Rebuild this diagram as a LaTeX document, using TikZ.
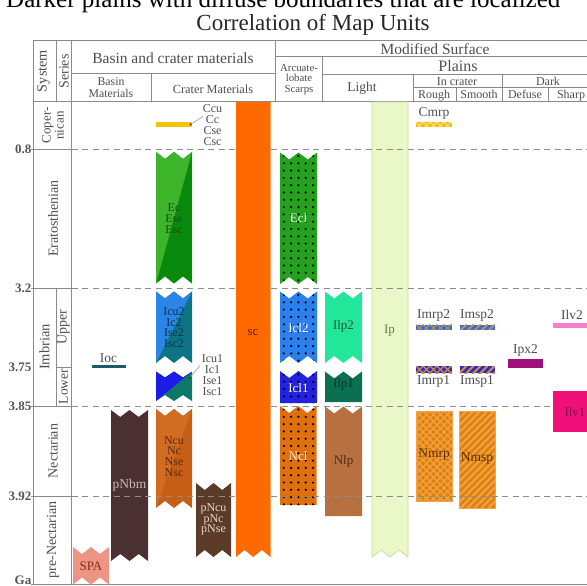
\documentclass[tikz,border=0pt]{standalone}
\usepackage{fontspec}
\setmainfont{Liberation Serif}
\definecolor{axisgray}{HTML}{8A8A8A}
\definecolor{dashgray}{HTML}{8C8C8C}
\definecolor{txtgray}{HTML}{4E4E4E}
\definecolor{numgray}{HTML}{555555}
\definecolor{leadgray}{HTML}{9A9A9A}
\definecolor{ccyel}{HTML}{F5C400}
\definecolor{ecA}{HTML}{3DB52B}
\definecolor{ecB}{HTML}{0A8A0C}
\definecolor{ectxt}{HTML}{1E4A1E}
\definecolor{icuA}{HTML}{2A86E6}
\definecolor{icuB}{HTML}{0B7585}
\definecolor{icuTxt}{HTML}{0E2E4E}
\definecolor{icA}{HTML}{1C1CE6}
\definecolor{icB}{HTML}{0B7868}
\definecolor{ncA}{HTML}{D26C22}
\definecolor{ncB}{HTML}{C65E16}
\definecolor{ncTxt}{HTML}{5A2A08}
\definecolor{pncu}{HTML}{5C3B29}
\definecolor{pncuTxt}{HTML}{E8D8C8}
\definecolor{scOr}{HTML}{FF6A00}
\definecolor{scTxt}{HTML}{5A1E00}
\definecolor{iocC}{HTML}{1B5A6A}
\definecolor{pnbm}{HTML}{4A3030}
\definecolor{pnbmTxt}{HTML}{C8B8B8}
\definecolor{spaC}{HTML}{EC9585}
\definecolor{spaTxt}{HTML}{8A2A1A}
\definecolor{eclC}{HTML}{24A21E}
\definecolor{icl2C}{HTML}{2A80EE}
\definecolor{icl1C}{HTML}{2222E0}
\definecolor{nclC}{HTML}{E0700E}
\definecolor{ilp2C}{HTML}{22E69A}
\definecolor{ilp2Txt}{HTML}{1A5A3A}
\definecolor{ilp1C}{HTML}{0A7050}
\definecolor{ilp1Txt}{HTML}{06382A}
\definecolor{nlpC}{HTML}{B87040}
\definecolor{nlpTxt}{HTML}{4A2A14}
\definecolor{ipC}{HTML}{EAF8C8}
\definecolor{ipEdge}{HTML}{C8DEA0}
\definecolor{ipTxt}{HTML}{6A7A4A}
\definecolor{mrpY}{HTML}{F5C000}
\definecolor{mrpYL}{HTML}{FBE7A0}
\definecolor{blueA}{HTML}{3070E2}
\definecolor{blueB}{HTML}{2A2AD2}
\definecolor{orL}{HTML}{D89030}
\definecolor{nmC}{HTML}{E0800E}
\definecolor{nmL}{HTML}{F2A444}
\definecolor{nmTxt}{HTML}{5A3000}
\definecolor{ipxC}{HTML}{A0107A}
\definecolor{ilv2C}{HTML}{F080C8}
\definecolor{ilv1C}{HTML}{F0107A}
\definecolor{ilvTxt}{HTML}{8A0A4A}
\newcommand{\ribshape}[6]{(#1,#3) -- ({#1+(#2-#1)/4},{#3+#5}) -- ({(#1+#2)/2},#3) -- ({#1+3*(#2-#1)/4},{#3+#5}) -- (#2,#3) -- (#2,#4) -- ({#1+3*(#2-#1)/4},{#4-#6}) -- ({(#1+#2)/2},#4) -- ({#1+(#2-#1)/4},{#4-#6}) -- (#1,#4) -- cycle}
\newcommand{\monorib}[7]{\fill[#7] \ribshape{#1}{#2}{#3}{#4}{#5}{#6};}
\newcommand{\tworib}[8]{\fill[#8] \ribshape{#1}{#2}{#3}{#4}{#5}{#6};
  \begin{scope}\clip \ribshape{#1}{#2}{#3}{#4}{#5}{#6};
  \fill[#7] (#1,#3) -- (#2,#3) -- (#1,#4) -- cycle;\end{scope}}
\newcommand{\dotrib}[7]{\fill[#7] \ribshape{#1}{#2}{#3}{#4}{#5}{#6};
  \begin{scope}\clip \ribshape{#1}{#2}{#3}{#4}{#5}{#6};
  \foreach \xx in {0,...,4} {\foreach \yy in {0,...,19} {\fill[black] ({#1+3.8+\xx*7.3},{#3+3.5+\yy*7.3}) circle (1.25);}}
  \end{scope}}
\newcommand{\xhatch}[7]{\fill[#5] (#1,#2) rectangle (#3,#4);
  \begin{scope}\clip (#1,#2) rectangle (#3,#4);
  \foreach \k in {-15,...,20} {\draw[#6, line width=#7] ({#1+\k*7},#2) -- ++(100,100);
    \draw[#6, line width=#7] ({#1+\k*7},#2) -- ++(-100,100);}
  \end{scope}}
\newcommand{\stripes}[7]{\fill[#5] (#1,#2) rectangle (#3,#4);
  \begin{scope}\clip (#1,#2) rectangle (#3,#4);
  \foreach \k in {0,...,20} {\draw[#6, line width=#7] ({#1+\k*7},#2) -- ++(-100,100);}
  \end{scope}}
\begin{document}
\begin{tikzpicture}[x=1pt,y=-1pt,
  grid/.style={draw=axisgray, line width=1pt},
  dash line/.style={draw=dashgray, line width=0.9pt, dash pattern=on 6pt off 4.5pt},
  hdr/.style={text=txtgray, font=\fontsize{15.5}{16}\selectfont, inner sep=0pt},
  sub/.style={text=txtgray, font=\fontsize{12.3}{10.5}\selectfont, inner sep=0pt, align=center},
  per/.style={text=txtgray, font=\fontsize{14}{13}\selectfont, inner sep=0pt, rotate=90, align=center},
  num/.style={text=numgray, font=\bfseries\fontsize{13}{13}\selectfont, inner sep=0pt, anchor=east},
  ulab/.style={text=txtgray, font=\fontsize{13.5}{11}\selectfont, inner sep=0pt, align=center},
  slab/.style={text=txtgray, font=\fontsize{12}{11}\selectfont, inner sep=0pt, align=center},
  inl/.style={font=\fontsize{12}{10.8}\selectfont, inner sep=0pt, align=center},
  leader/.style={draw=leadgray, line width=0.6pt}]
\useasboundingbox (0,0) rectangle (587,586);
\clip (0,0) rectangle (587,586);
% top text (cropped in the reference) and title
\node[anchor=base west, inner sep=0pt, font=\fontsize{25}{25}\selectfont] (cut) at (6,7.5) {Darker plains with diffuse boundaries that are localized};
\node[anchor=base, inner sep=0pt, font=\fontsize{23}{23}\selectfont, text=black!85] (title) at (313,31) {Correlation of Map Units};
% header frame
\draw[grid] (33,41) -- (600,41);
\draw[grid] (33,101.5) -- (600,101.5);
\draw[grid] (33,41) -- (33,584);
\draw[grid] (71,41) -- (71,584);
\draw[grid] (56,41) -- (56,101.5);
\draw[grid] (71,74) -- (275.5,74);
\draw[grid] (151,74) -- (151,101.5);
\draw[grid] (275.5,41) -- (275.5,101.5);
\draw[grid] (275.5,57) -- (600,57);
\draw[grid] (322,57) -- (322,101.5);
\draw[grid] (322,75) -- (600,75);
\draw[grid] (413,75) -- (413,101.5);
\draw[grid] (502,75) -- (502,101.5);
\draw[grid] (413,88) -- (600,88);
\draw[grid] (456,88) -- (456,101.5);
\draw[grid] (548,88) -- (548,101.5);
% time scale
\draw[grid] (31,149) -- (71,149);
\draw[grid] (31,288) -- (71,288);
\draw[grid] (56,367) -- (71,367);
\draw[grid] (31,406) -- (71,406);
\draw[grid] (31,496) -- (71,496);
\draw[grid] (56,288) -- (56,406);
\draw[grid] (31,584) -- (600,584);
\node[num] (n1) at (31.5,149.5) {0.8};
\node[num] (n2) at (31.5,288.5) {3.2};
\node[num] (n3) at (31.5,367.5) {3.75};
\node[num] (n4) at (31.5,406.5) {3.85};
\node[num] (n5) at (31.5,496.5) {3.92};
\node[num] (n6) at (31.5,580) {Ga};
% header texts
\node[per, font=\fontsize{14.3}{13}\selectfont] (hsys) at (43.5,71) {System};
\node[per, font=\fontsize{14}{13}\selectfont] (hser) at (64,71.5) {Series};
\node[hdr, anchor=base] (hbc) at (173,63.5) {Basin and crater materials};
\node[sub, font=\fontsize{11.8}{11.5}\selectfont] (hbm) at (111,87.5) {Basin\\Materials};
\node[sub, anchor=base] (hcm) at (213,93.5) {Crater Materials};
\node[hdr, anchor=base] (hms) at (435,55) {Modified Surface};
\node[hdr, anchor=base, font=\fontsize{16}{16}\selectfont] (hpl) at (458,71.5) {Plains};
\node[sub, font=\fontsize{10.8}{10.6}\selectfont] (harc) at (299,79.5) {Arcuate-\\lobate\\Scarps};
\node[sub, anchor=base, font=\fontsize{13.5}{13}\selectfont] (hli) at (362,91.5) {Light};
\node[sub, anchor=base, font=\fontsize{12}{12}\selectfont] (hic) at (457,86) {In crater};
\node[sub, anchor=base, font=\fontsize{12}{12}\selectfont] (hda) at (548,86) {Dark};
\node[sub, anchor=base, font=\fontsize{12}{12}\selectfont] (hro) at (434,99) {Rough};
\node[sub, anchor=base, font=\fontsize{12}{12}\selectfont] (hsm) at (479,99) {Smooth};
\node[sub, anchor=base, font=\fontsize{12}{12}\selectfont] (hde) at (525,99) {Defuse};
\node[sub, anchor=base, font=\fontsize{12}{12}\selectfont] (hsh) at (571,99) {Sharp};
% period labels
\node[per, font=\fontsize{13}{13}\selectfont] (pcop) at (53,125.5) {Coper-\\nican};
\node[per] (pera) at (53,218.5) {Eratosthenian};
\node[per, font=\fontsize{14.5}{13}\selectfont] (pimb) at (44.5,347) {Imbrian};
\node[per] (pupp) at (63.5,327.5) {Upper};
\node[per, font=\fontsize{13.5}{13}\selectfont] (plow) at (63.5,386.5) {Lower};
\node[per] (pnec) at (53,451) {Nectarian};
\node[per] (ppre) at (53,540) {pre-Nectarian};
% ---------- units ----------
% crater materials
\fill[ccyel] (156,122) rectangle (192,127);
\coordinate (ccdot) at (190.5,124.5);
\fill[black] (ccdot) circle (1);
\node[slab] (cclab) at (212.5,125) {Ccu\\Cc\\Cse\\Csc};
\coordinate (ccend) at (203,116.5);
\draw[leader] (ccdot) -- (ccend);
\tworib{156}{192}{152}{283.5}{7}{7}{ecA}{ecB}
\node[inl, text=ectxt] (ec) at (174,218.5) {Ec\\Ese\\Esc};
\tworib{156}{192}{291.5}{363}{7}{7}{icuA}{icuB}
\node[inl, text=icuTxt] (icu2) at (174,327.5) {Icu2\\Ic2\\Ise2\\Isc2};
\tworib{156}{192}{371.5}{401}{6}{6}{icA}{icB}
\coordinate (icdot) at (190,377.5);
\fill[black] (icdot) circle (0.9);
\node[slab] (iclab) at (212.5,375) {Icu1\\Ic1\\Ise1\\Isc1};
\coordinate (icend) at (200,365.5);
\draw[leader] (icdot) -- (icend);
\tworib{156}{192}{409}{508}{7}{7}{ncA}{ncB}
\node[inl, text=ncTxt] (ncu) at (174,456.5) {Ncu\\Nc\\Nse\\Nsc};
\monorib{196}{231}{483}{557}{7}{7}{pncu}
\node[inl, text=pncuTxt] (pncu) at (213.5,519.5) {pNcu\\pNc\\pNse};
% basin materials
\fill[iocC] (92,365.3) rectangle (126,368.3);
\node[ulab] (ioc) at (108.5,358.5) {Ioc};
\monorib{111}{148}{410}{561}{7}{7}{pnbm}
\node[inl, text=pnbmTxt, font=\fontsize{13.5}{11}\selectfont] (pnbm) at (129.5,485) {pNbm};
\monorib{73}{109}{547}{584.5}{7}{7}{spaC}
\node[inl, text=spaTxt, font=\fontsize{13}{11}\selectfont] (spa) at (91,566.5) {SPA};
% arcuate-lobate scarps
\dotrib{280}{317}{152.5}{284}{7}{7}{eclC}
\node[inl, text=white!85!green, font=\fontsize{13}{11}\selectfont] (ecl) at (298.5,218) {Ecl};
\dotrib{280}{317}{291.5}{363}{7}{7}{icl2C}
\node[inl, text=white, font=\fontsize{13}{11}\selectfont] (icl2) at (298.5,328) {Icl2};
\dotrib{280}{317}{371}{403}{7}{0}{icl1C}
\node[inl, text=white, font=\fontsize{13}{11}\selectfont] (icl1) at (298.5,388.5) {Icl1};
\dotrib{280}{316.5}{406}{505}{7}{0}{nclC}
\node[inl, text=white!85!orange, font=\fontsize{13}{11}\selectfont] (ncl) at (298,456) {Ncl};
% light plains
\monorib{325}{362}{291.5}{363}{7}{7}{ilp2C}
\node[inl, text=ilp2Txt, font=\fontsize{13}{11}\selectfont] (ilp2) at (343.5,326.5) {Ilp2};
\monorib{325}{362}{371.5}{402}{7}{0}{ilp1C}
\node[inl, text=ilp1Txt, font=\fontsize{13}{11}\selectfont] (ilp1) at (343.5,384) {Ilp1};
\monorib{325}{362}{406.5}{516}{7}{0}{nlpC}
\node[inl, text=nlpTxt, font=\fontsize{13}{11}\selectfont] (nlp) at (343.5,461.5) {Nlp};
\filldraw[fill=ipC, draw=ipEdge, line width=0.8pt] \ribshape{372}{408}{102}{557}{0}{7};
\node[inl, text=ipTxt, font=\fontsize{13}{11}\selectfont] (ip) at (389.5,330.5) {Ip};
% in crater, rough
\xhatch{416}{122}{452}{127}{mrpY}{mrpYL}{0.8pt}
\node[ulab] (cmrp) at (434,113) {Cmrp};
\xhatch{416}{324.5}{452}{329.5}{blueA}{orL}{1pt}
\node[ulab] (imrp2) at (433.5,315) {Imrp2};
\xhatch{416}{366}{452}{373}{blueB}{orL}{1.1pt}
\node[ulab] (imrp1) at (433.5,381.5) {Imrp1};
\xhatch{416}{411}{452}{501}{nmC}{nmL}{1.2pt}
\draw[nmL, line width=0.6pt] (416,411) rectangle (452,501);
\node[inl, text=nmTxt, font=\fontsize{13.5}{11}\selectfont] (nmrp) at (434,455) {Nmrp};
% in crater, smooth
\stripes{459.5}{324.5}{495}{329.5}{blueA}{orL}{1.6pt}
\node[ulab] (imsp2) at (477,315) {Imsp2};
\stripes{459.5}{366}{495}{373}{blueB}{orL}{1.8pt}
\node[ulab] (imsp1) at (477,381.5) {Imsp1};
\stripes{459.5}{411}{495}{508}{nmC}{nmL}{1.8pt}
\draw[nmL, line width=0.6pt] (459.5,411) rectangle (495,508);
\node[inl, text=nmTxt, font=\fontsize{13.5}{11}\selectfont] (nmsp) at (477,459) {Nmsp};
% dark, defuse / sharp
\fill[ipxC] (508,359) rectangle (543,367.5);
\node[ulab] (ipx2) at (525.5,350) {Ipx2};
\fill[ilv2C] (553,323) rectangle (600,328);
\node[ulab] (ilv2) at (572,315) {Ilv2};
% dashed time lines
\foreach \yy in {149,288,406,496} {\draw[dash line] (71.5,\yy) -- (587,\yy);}
% units drawn above the dashed lines
\monorib{236}{270.5}{102}{557}{0}{7}{scOr}
\node[inl, text=scTxt, font=\fontsize{13}{11}\selectfont] (sc) at (253,332) {sc};
\fill[ilv1C] (553,391) rectangle (600,432);
\node[inl, text=ilvTxt, font=\fontsize{13}{11}\selectfont] (ilv1) at (575,412) {Ilv1};
\end{tikzpicture}
\end{document}
